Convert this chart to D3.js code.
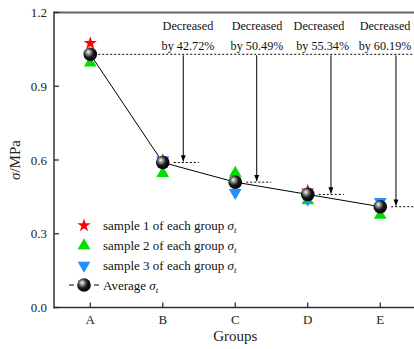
<!DOCTYPE html>
<html>
<head>
<meta charset="utf-8">
<script src="https://cdn.jsdelivr.net/npm/d3@7"></script>
<style>
  body { margin: 0; background: #fff; }
  svg { display: block; font-family: "Liberation Serif", "Times New Roman", serif; }
</style>
</head>
<body>
<svg id="chart" width="414" height="349"></svg>
<script>
// tensile strength of each group
const groups = ['A', 'B', 'C', 'D', 'E'];
const sample1 = [1.075, 0.600, 0.510, 0.475, 0.410];
const sample2 = [0.995, 0.546, 0.547, 0.435, 0.376];
const sample3 = [1.030, 0.600, 0.467, 0.440, 0.430];
const average = [1.030, 0.590, 0.510, 0.460, 0.410];
const decreases = ['42.72%', '50.49%', '55.34%', '60.19%'];
const yTicks = [0.0, 0.3, 0.6, 0.9, 1.2];

// annotation positions in group units (1 = A)
const arrowX = [2.283, 3.296, 4.32, 5.217];
const line1X = [2.348, 3.30, 4.155, 5.066];
const line2X = [2.348, 3.30, 4.206, 5.066];

const svg = d3.select('#chart');
const x = d3.scaleLinear().domain([0.5, 5.5]).range([54, 416.5]);
const y = d3.scaleLinear().domain([0, 1.2]).range([307.5, 12.5]);

const defs = svg.append('defs');
const grad = defs.append('radialGradient').attr('id', 'ball')
    .attr('cx', '40%').attr('cy', '40%').attr('r', '60%')
    .attr('fx', '35%').attr('fy', '32%');
grad.append('stop').attr('offset', '0%').attr('stop-color', '#ffffff');
grad.append('stop').attr('offset', '25%').attr('stop-color', '#9a9a9a');
grad.append('stop').attr('offset', '60%').attr('stop-color', '#1a1a1a');
grad.append('stop').attr('offset', '100%').attr('stop-color', '#000');
defs.append('marker').attr('id', 'arrow')
    .attr('viewBox', '0 0 10 8').attr('refX', 10).attr('refY', 4)
    .attr('markerWidth', 7).attr('markerHeight', 5).attr('orient', 'auto')
    .attr('markerUnits', 'userSpaceOnUse')
    .append('path').attr('d', 'M0,0 L10,4 L0,8 Z').attr('fill', '#000');

// frame
svg.append('line').attr('x1', 54).attr('x2', 414).attr('y1', y(1.2)).attr('y2', y(1.2))
    .attr('stroke', '#666').attr('stroke-width', 2);
svg.append('line').attr('x1', 54).attr('x2', 54).attr('y1', y(1.2) - 1).attr('y2', y(0) + 1)
    .attr('stroke', '#666').attr('stroke-width', 2);
svg.append('line').attr('x1', 54).attr('x2', 414).attr('y1', y(0)).attr('y2', y(0))
    .attr('stroke', '#333').attr('stroke-width', 1.6);

// y ticks
svg.selectAll('.ytick').data(yTicks).enter().append('line')
    .attr('x1', 54).attr('x2', 59).attr('y1', d => y(d)).attr('y2', d => y(d))
    .attr('stroke', '#222').attr('stroke-width', 1.2);
svg.selectAll('.ylab').data(yTicks).enter().append('text')
    .attr('x', 47).attr('y', d => y(d) + 4.5).attr('text-anchor', 'end')
    .attr('font-size', 13).attr('fill', '#222').text(d => d.toFixed(1));

// x ticks
svg.selectAll('.xtick').data(groups).enter().append('line')
    .attr('x1', (d, i) => x(i + 1)).attr('x2', (d, i) => x(i + 1))
    .attr('y1', y(0)).attr('y2', y(0) - 5)
    .attr('stroke', '#222').attr('stroke-width', 1.2);
svg.selectAll('.xlab').data(groups).enter().append('text')
    .attr('x', (d, i) => x(i + 1)).attr('y', 324).attr('text-anchor', 'middle')
    .attr('font-size', 13).attr('fill', '#222').text(d => d);

svg.append('text').attr('x', x(3)).attr('y', 341).attr('text-anchor', 'middle')
    .attr('font-size', 15).attr('fill', '#222').text('Groups');
const yl = svg.append('text').attr('transform', `translate(20,${y(0.6)}) rotate(-90)`)
    .attr('text-anchor', 'middle').attr('font-size', 15).attr('fill', '#222');
yl.append('tspan').attr('font-style', 'italic').text('σ');
yl.append('tspan').text('/MPa');

// reference dashed line from A average
svg.append('line').attr('x1', x(1) + 8).attr('x2', 414)
    .attr('y1', y(average[0])).attr('y2', y(average[0]))
    .attr('stroke', '#000').attr('stroke-width', 1).attr('stroke-dasharray', '2,2');

// short dashed lines and arrows
const rest = average.slice(1);
svg.selectAll('.short').data(rest).enter().append('line')
    .attr('x1', (d, i) => x(i + 2) + 11).attr('x2', (d, i) => x(i + 2) + 36)
    .attr('y1', d => y(d)).attr('y2', d => y(d))
    .attr('stroke', '#000').attr('stroke-width', 1).attr('stroke-dasharray', '2,2');
svg.selectAll('.arr').data(rest).enter().append('line')
    .attr('x1', (d, i) => x(arrowX[i])).attr('x2', (d, i) => x(arrowX[i]))
    .attr('y1', y(average[0]) + 1).attr('y2', d => y(d) - 1)
    .attr('stroke', '#000').attr('stroke-width', 1)
    .attr('marker-end', 'url(#arrow)');
svg.selectAll('.dec1').data(decreases).enter().append('text')
    .attr('x', (d, i) => x(line1X[i])).attr('y', 30).attr('text-anchor', 'middle')
    .attr('font-size', 12.2).attr('fill', '#111').text('Decreased');
svg.selectAll('.dec2').data(decreases).enter().append('text')
    .attr('x', (d, i) => x(line2X[i])).attr('y', 50).attr('text-anchor', 'middle')
    .attr('font-size', 12.2).attr('fill', '#111').text(d => 'by ' + d);

// average line
svg.append('path').datum(average)
    .attr('d', d3.line().x((d, i) => x(i + 1)).y(d => y(d)))
    .attr('fill', 'none').attr('stroke', '#000').attr('stroke-width', 1);

const star = d3.symbol().type(d3.symbolStar).size(55);
const tri = d3.symbol().type(d3.symbolTriangle).size(70);

function drawStar(g, cx, cy) {
    g.append('path').attr('d', star).attr('transform', `translate(${cx},${cy})`).attr('fill', '#ff0000');
}
function drawUp(g, cx, cy) {
    g.append('path').attr('d', tri).attr('transform', `translate(${cx},${cy})`).attr('fill', '#00dd00');
}
function drawDown(g, cx, cy) {
    g.append('path').attr('d', tri).attr('transform', `translate(${cx},${cy}) rotate(180)`).attr('fill', '#1e90ff');
}
function drawBall(g, cx, cy) {
    g.append('circle').attr('cx', cx).attr('cy', cy).attr('r', 6.8).attr('fill', 'url(#ball)');
}

const marks = svg.append('g');
sample1.forEach((v, i) => drawStar(marks, x(i + 1), y(v)));
sample2.forEach((v, i) => drawUp(marks, x(i + 1), y(v)));
sample3.forEach((v, i) => drawDown(marks, x(i + 1), y(v)));
average.forEach((v, i) => drawBall(marks, x(i + 1), y(v)));

// legend
const legendRows = [
    { label: 'sample 1 of each group ', y: 225.5, draw: drawStar },
    { label: 'sample 2 of each group ', y: 245.5, draw: drawUp },
    { label: 'sample 3 of each group ', y: 265.5, draw: drawDown },
    { label: 'Average ', y: 285, draw: drawBall }
];
svg.append('line').attr('x1', 69).attr('x2', 99).attr('y1', 285).attr('y2', 285)
    .attr('stroke', '#000').attr('stroke-width', 1);
svg.append('rect').attr('x', 74).attr('y', 283).attr('width', 20).attr('height', 4).attr('fill', '#fff');
const lg = svg.append('g');
legendRows.forEach(r => {
    r.draw(lg, 84, r.y);
    const t = lg.append('text').attr('x', 103).attr('y', r.y + 4.5)
        .attr('font-size', 13).attr('fill', '#111');
    t.append('tspan').text(r.label);
    t.append('tspan').attr('font-style', 'italic').text('σ');
    t.append('tspan').attr('font-style', 'italic').attr('font-size', 9).attr('dy', 3).text('t');
});
</script>
</body>
</html>
